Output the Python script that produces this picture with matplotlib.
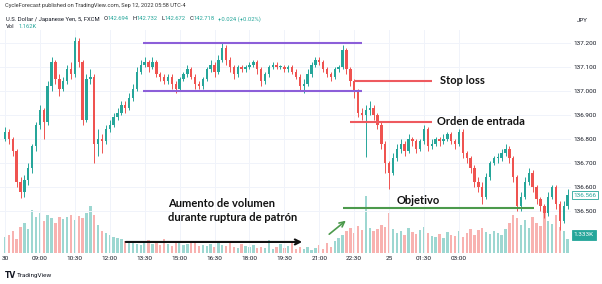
import matplotlib.pyplot as plt
import numpy as np

W, H = 602, 284

# 10-minute candles, 07:30 -> 07:40 next day
first_open = 136.80
closes = [136.83, 136.80, 136.75, 136.62, 136.58, 136.63, 136.68, 136.77, 136.86, 136.92,
          136.87, 137.02, 137.12, 137.05, 137.01, 137.04, 137.09, 137.07, 137.21, 137.12,
          136.88, 137.05, 137.06, 136.78, 136.80, 136.79, 136.84, 136.86, 136.89, 136.91,
          136.94, 136.93, 136.97, 137.01, 137.08, 137.11, 137.12, 137.10, 137.12, 137.07,
          137.06, 137.04, 137.06, 137.03, 137.01, 137.05, 137.07, 137.09, 137.06, 137.03,
          137.02, 137.05, 137.09, 137.11, 137.08, 137.13, 137.18, 137.13, 137.10, 137.07,
          137.10, 137.09, 137.10, 137.11, 137.12, 137.09, 137.04, 137.07, 137.10, 137.11,
          137.10, 137.10, 137.09, 137.10, 137.08, 137.06, 137.02, 137.03, 137.07, 137.11,
          137.13, 137.12, 137.09, 137.07, 137.06, 137.09, 137.10, 137.17, 137.09, 137.04,
          137.00, 136.91, 136.90, 136.92, 136.93, 136.90, 136.86, 136.78, 136.70, 136.66,
          136.72, 136.76, 136.78, 136.75, 136.80, 136.79, 136.76, 136.79, 136.84, 136.77,
          136.78, 136.80, 136.79, 136.80, 136.82, 136.79, 136.78, 136.83, 136.74, 136.72,
          136.68, 136.62, 136.60, 136.56, 136.64, 136.70, 136.72, 136.72, 136.74, 136.76,
          136.72, 136.64, 136.52, 136.56, 136.62, 136.66, 136.60, 136.55, 136.52, 136.49,
          136.56, 136.60, 136.53, 136.46, 136.52, 136.566]
highs = [136.85, 136.84, 136.81, 136.76, 136.64, 136.65, 136.70, 136.78, 136.87, 136.94,
         136.93, 137.04, 137.14, 137.13, 137.07, 137.06, 137.11, 137.12, 137.225, 137.22,
         137.13, 137.07, 137.09, 137.07, 136.84, 136.82, 136.86, 136.88, 136.91, 136.93,
         136.96, 136.96, 136.99, 137.03, 137.10, 137.13, 137.14, 137.13, 137.14, 137.13,
         137.08, 137.07, 137.07, 137.07, 137.04, 137.06, 137.08, 137.11, 137.10, 137.07,
         137.04, 137.06, 137.10, 137.13, 137.12, 137.15, 137.20, 137.19, 137.14, 137.11,
         137.11, 137.11, 137.11, 137.12, 137.13, 137.13, 137.10, 137.08, 137.11, 137.12,
         137.12, 137.11, 137.11, 137.11, 137.11, 137.09, 137.07, 137.05, 137.09, 137.12,
         137.14, 137.14, 137.13, 137.10, 137.08, 137.10, 137.11, 137.19, 137.18, 137.10,
         137.05, 137.01, 136.93, 136.94, 136.96, 136.94, 136.91, 136.87, 136.79, 136.71,
         136.74, 136.78, 136.80, 136.79, 136.82, 136.81, 136.80, 136.80, 136.86, 136.85,
         136.80, 136.81, 136.81, 136.82, 136.83, 136.83, 136.80, 136.84, 136.84, 136.75,
         136.73, 136.69, 136.64, 136.62, 136.66, 136.71, 136.73, 136.74, 136.76, 136.78,
         136.77, 136.73, 136.65, 136.58, 136.64, 136.68, 136.67, 136.61, 136.56, 136.53,
         136.58, 136.61, 136.61, 136.54, 136.54, 136.59]
lows = [136.79, 136.78, 136.73, 136.60, 136.555, 136.56, 136.61, 136.66, 136.75, 136.84,
        136.80, 136.86, 137.00, 137.03, 136.98, 137.00, 137.03, 137.05, 137.06, 137.10,
        136.86, 136.87, 137.03, 136.70, 136.73, 136.74, 136.78, 136.83, 136.85, 136.88,
        136.90, 136.91, 136.92, 136.96, 137.00, 137.07, 137.10, 137.08, 137.09, 137.06,
        137.04, 137.03, 137.03, 137.01, 136.99, 137.00, 137.04, 137.06, 137.05, 137.01,
        137.01, 137.01, 137.04, 137.08, 137.06, 137.07, 137.12, 137.11, 137.08, 137.05,
        137.06, 137.08, 137.08, 137.09, 137.10, 137.07, 137.02, 137.03, 137.06, 137.09,
        137.09, 137.09, 137.08, 137.08, 137.07, 137.05, 137.00, 136.99, 137.02, 137.06,
        137.10, 137.11, 137.08, 137.06, 137.04, 137.05, 137.08, 137.09, 137.07, 137.02,
        136.97, 136.89, 136.88, 136.725, 136.90, 136.88, 136.84, 136.76, 136.66, 136.59,
        136.65, 136.71, 136.74, 136.73, 136.74, 136.77, 136.74, 136.75, 136.78, 136.75,
        136.76, 136.77, 136.77, 136.78, 136.79, 136.78, 136.76, 136.77, 136.72, 136.70,
        136.66, 136.60, 136.58, 136.53, 136.55, 136.63, 136.69, 136.70, 136.71, 136.73,
        136.70, 136.62, 136.50, 136.50, 136.55, 136.61, 136.58, 136.53, 136.50, 136.47,
        136.48, 136.55, 136.51, 136.42, 136.45, 136.51]
volumes = [1520, 1710, 2090, 1330, 2470, 2850, 2280, 4085, 3420, 3800,
           3040, 3610, 3325, 2850, 3420, 3230, 3420, 3610, 3135, 3515,
           3325, 3800, 4465, 3610, 2660, 2090, 1900, 1710, 1520, 1425,
           1330, 1140, 950, 1140, 855, 760, 1045, 1235, 855, 950,
           760, 1330, 855, 665, 950, 1140, 760, 855, 1045, 950,
           665, 760, 665, 855, 570, 950, 760, 665, 1140, 570,
           475, 855, 665, 570, 760, 475, 570, 475, 1235, 380,
           570, 855, 475, 665, 1140, 380, 570, 380, 570, 285,
           475, 760, 380, 950, 570, 1140, 1425, 1710, 2090, 2375,
           1900, 2565, 2185, 5415, 2375, 2090, 2280, 2660, 2470, 3800,
           2280, 1900, 2090, 1710, 2375, 1995, 1805, 2185, 2470, 1900,
           1615, 1520, 1805, 1425, 1995, 1710, 1615, 2090, 1520, 1900,
           2280, 1710, 2185, 2375, 1995, 1805, 2090, 1900, 1710, 2280,
           2850, 3610, 3325, 2660, 3135, 2375, 3420, 2850, 2565, 3800,
           3040, 2755, 3610, 2470, 2090, 1333]

tick_bars = [0, 9, 18, 27, 36, 45, 54, 63, 72, 81, 90, 99, 108, 117]
tick_labels = ["30", "09:00", "10:30", "12:00", "13:30", "15:00", "16:30",
               "18:00", "19:30", "21:00", "22:30", "25", "01:30", "03:00"]
price_ticks = [136.5, 136.6, 136.7, 136.8, 136.9, 137.0, 137.1, 137.2]

# annotation levels (bar index, price)
range_top, range_bottom, range_span = 137.200, 137.000, (35.6, 92.0)
stop_level, stop_span = 137.042, (90.0, 110.0)
entry_level, entry_span = 136.871, (88.9, 110.0)
target_level, target_span = 136.5125, (87.1, 136.3)

UP, DOWN = "#26a69a", "#ef5350"
UP_V, DOWN_V = "#9dd7d1", "#f8b2b0"
TXT = "#131722"

fig = plt.figure(figsize=(W / 100, H / 100), dpi=100)
fig.patch.set_facecolor("white")

pos = [0, (H - 253) / H, 571 / W, (253 - 30) / H]
xlim = (-5 / 3.88, 566 / 3.88)

ax_v = fig.add_axes(pos)
ax = fig.add_axes(pos)
ax.patch.set_alpha(0)
ax_v.set_zorder(0)
ax.set_zorder(1)

x = np.arange(len(closes))
opens = [first_open] + closes[:-1]
up = [c >= o for o, c in zip(opens, closes)]
cols = [UP if u else DOWN for u in up]

# volume
ax_v.bar(x, volumes, width=0.62, color=[UP_V if u else DOWN_V for u in up], linewidth=0)
ax_v.set_xlim(xlim)
ax_v.set_ylim(0, 1333 * 223 / 14)
ax_v.axis("off")

# grid
for t in tick_bars:
    ax.axvline(t, color="#f0f3fa", lw=0.7, zorder=0)
for p in price_ticks:
    ax.axhline(p, color="#f0f3fa", lw=0.7, zorder=0)

# candles
ax.vlines(x, lows, highs, colors=cols, lw=0.7, zorder=3)
bottoms = np.minimum(opens, closes)
heights = np.maximum(np.abs(np.array(closes) - np.array(opens)), 0.004)
ax.bar(x, heights, bottom=bottoms, width=0.62, color=cols, linewidth=0, zorder=4)

ax.set_xlim(xlim)
ax.set_ylim(136.325, 137.254)

ax.yaxis.tick_right()
ax.set_yticks(price_ticks)
ax.set_yticklabels([f"{p:.3f}" for p in price_ticks], fontsize=4.6, color=TXT, family="Roboto")
ax.set_xticks(tick_bars)
ax.set_xticklabels(tick_labels, fontsize=4.6, color=TXT, family="Roboto")
ax.tick_params(length=0, pad=2)
for s in ax.spines.values():
    s.set_visible(False)

# pattern / trade levels
ax.hlines([range_top, range_bottom], *range_span, color="#8c5fd9", lw=1.5, zorder=5)
ax.hlines(stop_level, *stop_span, color="#ee5a5f", lw=1.5, zorder=5)
ax.hlines(entry_level, *entry_span, color="#ee5a5f", lw=1.5, zorder=5)
ax.hlines(target_level, *target_span, color="#4c9a4c", lw=1.5, zorder=5)

lab = dict(fontsize=8, fontweight="bold", family="Lato", color="#111111", va="center", zorder=6)
ax.text(112.1, stop_level, "Stop loss", **lab)
ax.text(111.3, entry_level, "Orden de entrada", **lab)
ax.text(101.0, 136.542, "Objetivo", **lab)
ax.text(42.0, 136.533, "Aumento de volumen", **lab)
ax.text(42.0, 136.471, "durante ruptura de patrón", **lab)

ax.annotate("", xy=(77.3, 136.371), xytext=(30.4, 136.371),
            arrowprops=dict(arrowstyle="->", color="#111111", lw=1.5, mutation_scale=9), zorder=6)
ax.annotate("", xy=(88.4, 136.467), xytext=(83.0, 136.396),
            arrowprops=dict(arrowstyle="->", color="#4c9a4c", lw=1.2, mutation_scale=9), zorder=6)

# right-hand price / volume labels
ax.annotate(f"{closes[-1]:.3f}", xy=(1.0, closes[-1]), xycoords=("axes fraction", "data"),
            xytext=(2, 0), textcoords="offset points", fontsize=4.6, color=UP, va="center",
            family="Roboto", bbox=dict(boxstyle="square,pad=0.25", fc="white", ec=UP, lw=0.6))
ax_v.annotate(f"{volumes[-1] / 1000:.3f}K", xy=(1.0, volumes[-1]), xycoords=("axes fraction", "data"),
              xytext=(2, 3), textcoords="offset points", fontsize=4.6, color="white", va="center",
              family="Roboto", annotation_clip=False,
              bbox=dict(boxstyle="square,pad=0.35", fc=UP, ec=UP, lw=0.6))
fig.text(577 / W, 1 - 20 / H, "JPY", fontsize=4.4, color=TXT, family="Roboto", va="center")

# header lines
renderer = fig.canvas.get_renderer()


def chain(x0, y0, parts, size):
    xp = x0
    for s, c, gap in parts:
        t = fig.text(xp / W, 1 - y0 / H, s, fontsize=size, color=c, family="Roboto", va="center")
        xp = t.get_window_extent(renderer=renderer).x1 + gap


chain(5, 6, [("CycleForecast published on TradingView.com, Sep 12, 2022 05:58 UTC-4", "#333333", 0)], 4.05)
chain(6, 19, [("U.S. Dollar / Japanese Yen, 5, FXCM", TXT, 3.5), ("O", TXT, 0.4), ("142.694", UP, 3.5),
              ("H", TXT, 0.4), ("142.732", UP, 3.5), ("L", TXT, 0.4), ("142.672", UP, 3.5),
              ("C", TXT, 0.4), ("142.718", UP, 3.5), ("+0.024 (+0.02%)", UP, 0)], 4.2)
chain(6, 27, [("Vol", TXT, 4), ("1.162K", UP, 0)], 4.2)

fig.text(5 / W, 1 - 276 / H, "TV", fontsize=5.5, fontweight="bold", color=TXT, va="center")
fig.text(17 / W, 1 - 276 / H, "TradingView", fontsize=4.6, color=TXT, va="center", family="Roboto")

fig.savefig("out.png", dpi=100)
